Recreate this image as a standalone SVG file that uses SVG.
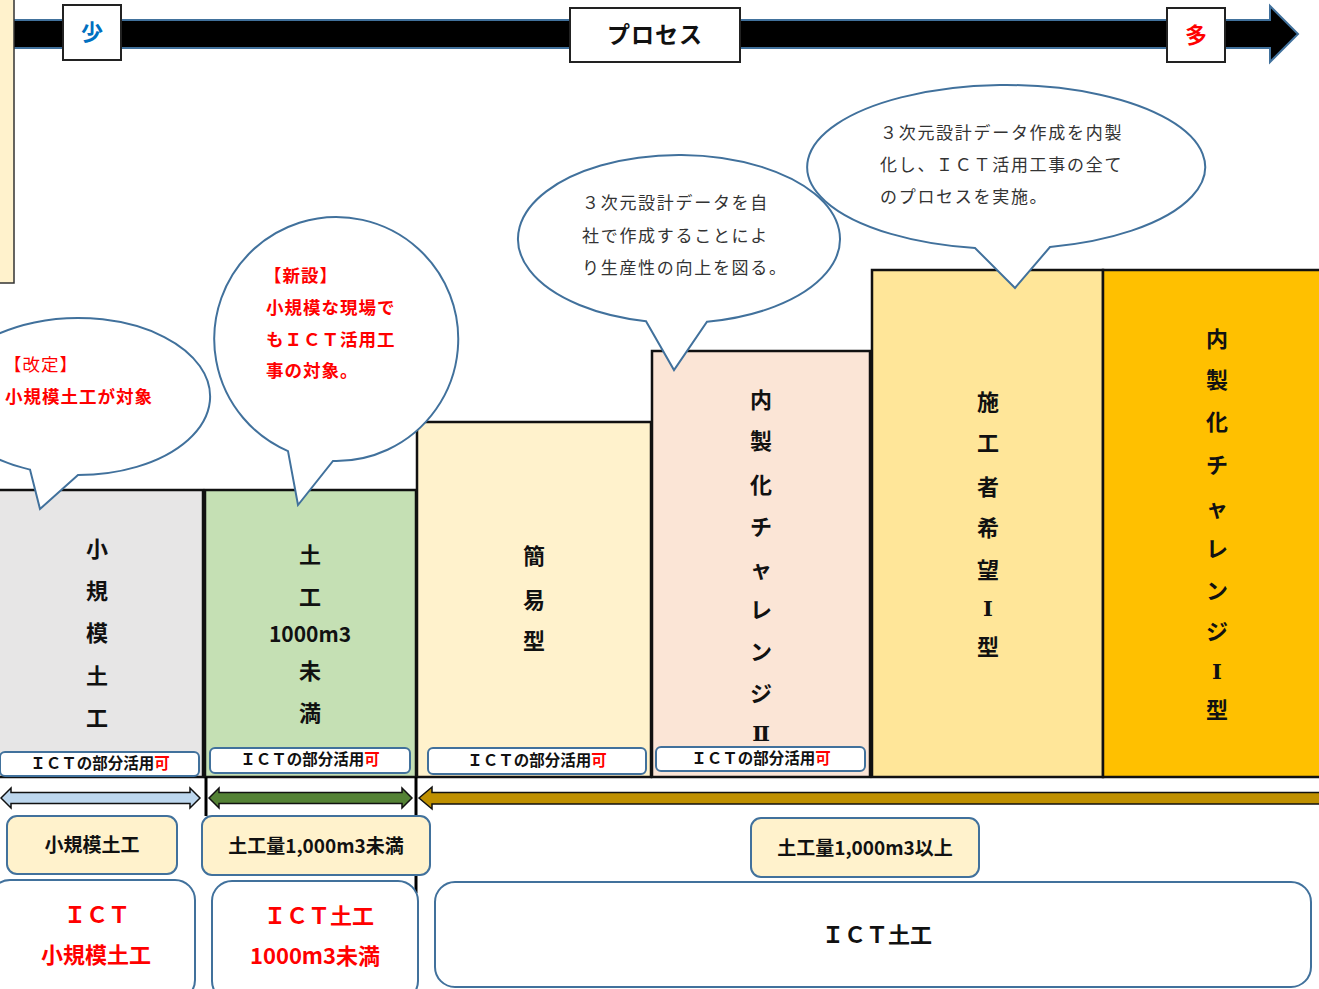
<svg xmlns="http://www.w3.org/2000/svg" width="1319" height="989" viewBox="0 0 1319 989">
<style>
text{font-family:"Noto Sans CJK JP","Noto Sans",sans-serif;dominant-baseline:central}
.col{stroke:#111;stroke-width:2.5}
.vt{font-size:22px;font-weight:bold;fill:#111;text-anchor:middle}
.rn{font-family:"DejaVu Serif","Liberation Serif",serif;font-size:21px}
.ict{fill:#fff;stroke:#41719C;stroke-width:2}
.ictt{font-size:15.5px;font-weight:bold;fill:#111;text-anchor:middle}
.red{fill:#FF0000}
.lab{fill:#FFF2CC;stroke:#41719C;stroke-width:2}
.labt{font-size:19px;font-weight:bold;fill:#111;text-anchor:middle}
.big{fill:#fff;stroke:#41719C;stroke-width:2}
.bigt{font-size:22px;font-weight:bold;text-anchor:middle}
.call{fill:#fff;stroke:#41719C;stroke-width:2;stroke-linejoin:miter}
.ct{font-size:17px;fill:#333;letter-spacing:1.7px}
.rt{font-size:17.5px;fill:#FF0000;letter-spacing:1px}
.box{fill:#fff;stroke:#222;stroke-width:2}
.arr{stroke:#111;stroke-width:1.5;stroke-linejoin:miter}
</style>
<rect width="1319" height="989" fill="#fff"/>

<g id="process-arrow">
<path d="M0,20 L1270,20 L1270,6 L1298,34 L1270,62 L1270,48 L0,48 Z" fill="#000" stroke="#41719C" stroke-width="2"/>
<rect x="-2" y="-2" width="16" height="285" fill="#FFF2CC" stroke="#333" stroke-width="1.5"/>
</g>
<g id="label-few">
<rect class="box" x="63" y="5" width="58" height="55"/>
<text x="92" y="30" font-size="22" font-weight="bold" fill="#0070C0" text-anchor="middle">少</text>
</g>
<g id="label-process">
<rect class="box" x="570" y="8" width="170" height="54"/>
<text x="655" y="33" font-size="23" font-weight="bold" fill="#111" text-anchor="middle" letter-spacing="1">プロセス</text>
</g>
<g id="label-many">
<rect class="box" x="1167" y="8" width="58" height="54"/>
<text x="1196" y="33" font-size="22" font-weight="bold" fill="#FF0000" text-anchor="middle">多</text>
</g>

<g id="col-small">
<rect class="col" x="-2" y="490" width="205" height="287" fill="#E7E6E6"/>
<text class="vt"><tspan x="97" y="547">小</tspan><tspan x="97" y="589">規</tspan><tspan x="97" y="631">模</tspan><tspan x="97" y="674">土</tspan><tspan x="97" y="716">工</tspan></text>
<rect class="ict" x="0" y="752" width="199" height="24" rx="5"/>
<text class="ictt" x="100" y="762">ＩＣＴの部分活用<tspan class="red">可</tspan></text>
</g>
<g id="col-under1000">
<rect class="col" x="205" y="490" width="211" height="287" fill="#C5E0B4"/>
<text class="vt"><tspan x="310" y="553">土</tspan><tspan x="310" y="595">工</tspan><tspan x="310" y="633" font-size="21">1000m3</tspan><tspan x="310" y="669">未</tspan><tspan x="310" y="711">満</tspan></text>
<rect class="ict" x="210" y="748" width="200" height="25" rx="5"/>
<text class="ictt" x="310" y="758">ＩＣＴの部分活用<tspan class="red">可</tspan></text>
</g>
<g id="col-simple">
<rect class="col" x="417" y="422" width="234" height="355" fill="#FFF2CC"/>
<text class="vt"><tspan x="534" y="554">簡</tspan><tspan x="534" y="598">易</tspan><tspan x="534" y="639">型</tspan></text>
<rect class="ict" x="428" y="748" width="218" height="26" rx="5"/>
<text class="ictt" x="537" y="759">ＩＣＴの部分活用<tspan class="red">可</tspan></text>
</g>
<g id="col-challenge2">
<rect class="col" x="652" y="351" width="218" height="426" fill="#FBE5D6"/>
<text class="vt"><tspan x="761" y="398">内</tspan><tspan x="761" y="439">製</tspan><tspan x="761" y="483">化</tspan><tspan x="761" y="525">チ</tspan><tspan x="761" y="567">ャ</tspan><tspan x="761" y="608">レ</tspan><tspan x="761" y="650">ン</tspan><tspan x="761" y="692">ジ</tspan><tspan class="rn" x="761" y="733">Ⅱ</tspan></text>
<rect class="ict" x="656" y="747" width="209" height="24" rx="5"/>
<text class="ictt" x="761" y="757">ＩＣＴの部分活用<tspan class="red">可</tspan></text>
</g>
<g id="col-builder1">
<rect class="col" x="872" y="270" width="231" height="507" fill="#FFE699"/>
<text class="vt"><tspan x="988" y="400">施</tspan><tspan x="988" y="441">工</tspan><tspan x="988" y="485">者</tspan><tspan x="988" y="526">希</tspan><tspan x="988" y="568">望</tspan><tspan class="rn" x="988" y="608">Ⅰ</tspan><tspan x="988" y="645">型</tspan></text>
</g>
<g id="col-challenge1">
<rect class="col" x="1103" y="270" width="220" height="507" fill="#FFC000"/>
<text class="vt"><tspan x="1217" y="337">内</tspan><tspan x="1217" y="378">製</tspan><tspan x="1217" y="420">化</tspan><tspan x="1217" y="463">チ</tspan><tspan x="1217" y="506">ャ</tspan><tspan x="1217" y="547">レ</tspan><tspan x="1217" y="589">ン</tspan><tspan x="1217" y="630">ジ</tspan><tspan class="rn" x="1217" y="671">Ⅰ</tspan><tspan x="1217" y="708">型</tspan></text>
</g>

<g id="connectors">
<line x1="206" y1="777" x2="206" y2="816" stroke="#000" stroke-width="3"/>
<line x1="416" y1="777" x2="416" y2="893" stroke="#000" stroke-width="3"/>
<path class="arr" fill="#BDD7EE" d="M1,798 L11,788 L11,792.5 L190,792.5 L190,788 L200,798 L190,808 L190,803.5 L11,803.5 L11,808 Z"/>
<path class="arr" fill="#548235" d="M209,798 L219,788 L219,792.5 L402,792.5 L402,788 L412,798 L402,808 L402,803.5 L219,803.5 L219,808 Z"/>
<path class="arr" fill="#BF9000" d="M419,798 L432,787 L432,792.5 L1330,792.5 L1330,804 L432,804 L432,809 Z"/>
</g>

<g id="label-small-earthwork">
<rect class="lab" x="7" y="816" width="170" height="58" rx="10"/>
<text class="labt" x="92" y="843">小規模土工</text>
</g>
<g id="label-under1000">
<rect class="lab" x="202" y="816" width="228" height="59" rx="10"/>
<text class="labt" x="316" y="844">土工量1,000m3未満</text>
</g>
<g id="label-over1000">
<rect class="lab" x="751" y="818" width="228" height="59" rx="10"/>
<text class="labt" x="865" y="846">土工量1,000m3以上</text>
</g>

<g id="ict-small">
<rect class="big" x="-10" y="880" width="205" height="120" rx="20"/>
<text class="bigt red" x="97" y="913">ＩＣＴ</text>
<text class="bigt red" x="96" y="953">小規模土工</text>
</g>
<g id="ict-under1000">
<rect class="big" x="212" y="881" width="206" height="120" rx="20"/>
<text class="bigt red" x="319" y="914">ＩＣＴ土工</text>
<text class="bigt red" x="315" y="954" font-size="21">1000m3未満</text>
</g>
<g id="ict-earthwork">
<rect class="big" x="435" y="882" width="876" height="105" rx="20"/>
<text class="bigt" fill="#111" x="877" y="933">ＩＣＴ土工</text>
</g>

<g id="callout-revised">
<path class="call" d="M30,469.6 A132,78.5 0 1 1 78,475 L40,509 Z"/>
<text class="rt" x="4" y="363">【改定】</text>
<text class="rt" x="5" y="395" font-weight="bold">小規模土工が対象</text>
</g>
<g id="callout-new">
<path class="call" d="M288,451.1 A122,122 0 1 1 333,461 L298,505 Z"/>
<text class="rt" font-weight="bold"><tspan x="264" y="274">【新設】</tspan><tspan x="266" y="306">小規模な現場で</tspan><tspan x="266" y="338">もＩＣＴ活用工</tspan><tspan x="266" y="369">事の対象。</tspan></text>
</g>
<g id="callout-inhouse">
<path class="call" d="M646,321.2 A161,84 0 1 1 707,321.7 L674,370 Z"/>
<text class="ct"><tspan x="582" y="201">３次元設計データを自</tspan><tspan x="582" y="234">社で作成することによ</tspan><tspan x="582" y="266">り生産性の向上を図る。</tspan></text>
</g>
<g id="callout-all">
<path class="call" d="M975,248 A199,82 0 1 1 1050,247 L1015,288 Z"/>
<text class="ct"><tspan x="880" y="131">３次元設計データ作成を内製</tspan><tspan x="880" y="163">化し、ＩＣＴ活用工事の全て</tspan><tspan x="880" y="195">のプロセスを実施。</tspan></text>
</g>
</svg>
